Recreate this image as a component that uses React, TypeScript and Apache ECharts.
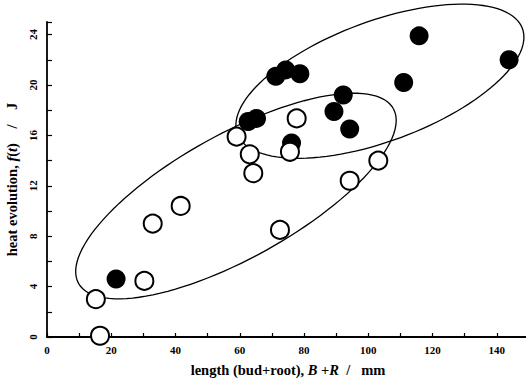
import React, { useEffect, useRef } from "react";
import * as echarts from "echarts";

// Filled circles: [length B+R (mm), heat evolution f(t) (J)]
const filledPoints: number[][] = [
  [21.5, 4.6],
  [62.6, 17.1],
  [65.2, 17.35],
  [71.2, 20.7],
  [74.3, 21.2],
  [78.7, 20.9],
  [76.1, 15.4],
  [89.3, 17.9],
  [92.2, 19.2],
  [94.2, 16.5],
  [111.0, 20.2],
  [115.8, 23.9],
  [143.8, 22.0],
];

// Open circles
const openPoints: number[][] = [
  [16.5, 0.1],
  [15.2, 3.0],
  [30.3, 4.45],
  [32.9, 9.0],
  [41.6, 10.4],
  [59.0, 15.9],
  [63.1, 14.5],
  [64.2, 13.0],
  [75.6, 14.7],
  [77.7, 17.35],
  [72.5, 8.5],
  [94.2, 12.4],
  [103.1, 14.0],
];

// Ellipses in data units: centre and two conjugate semi-axis vectors
const ellipseCentres: number[][] = [
  [103.6, 20.3],
  [58.8, 11.19],
];
const ellipseAxisA: number[][] = [
  [44.35, 4.18],
  [48.99, 6.93],
];
const ellipseAxisB: number[][] = [
  [6.47, -4.47],
  [9.36, -4.31],
];

const xName = "length (bud+root), {i|B} +{i|R}  /   mm";
const yName = "heat evolution, {i|f}({i|t})    /    J";

const FONT = '"Liberation Serif", "Times New Roman", serif';

export default function App() {
  const ref = useRef<HTMLDivElement>(null);

  useEffect(() => {
    if (!ref.current) return;
    document.body.style.margin = "0";
    const chart = echarts.init(ref.current, undefined, { renderer: "svg" });

    const renderEllipse = (params: any, api: any) => {
      const i = params.dataIndex;
      const c = ellipseCentres[i];
      const a = ellipseAxisA[i];
      const b = ellipseAxisB[i];
      const pts: number[][] = [];
      const N = 120;
      for (let k = 0; k <= N; k++) {
        const t = (2 * Math.PI * k) / N;
        pts.push(
          api.coord([
            c[0] + a[0] * Math.cos(t) + b[0] * Math.sin(t),
            c[1] + a[1] * Math.cos(t) + b[1] * Math.sin(t),
          ])
        );
      }
      return {
        type: "polyline",
        shape: { points: pts },
        style: { fill: "none", stroke: "#000", lineWidth: 1.3 },
      };
    };

    const nameStyle = {
      fontFamily: FONT,
      fontSize: 14.5,
      fontWeight: "bold",
      color: "#000",
      lineHeight: 15,
      rich: {
        i: {
          fontFamily: FONT,
          fontSize: 14.5,
          fontStyle: "italic",
          fontWeight: "bold",
          color: "#000",
          lineHeight: 15,
        },
      },
    };

    chart.setOption({
      animation: false,
      backgroundColor: "#fff",
      grid: {
        left: 47,
        top: 22,
        width: 482,
        height: 315,
        containLabel: false,
        outerBoundsMode: "none",
      },
      xAxis: {
        type: "value",
        min: 0,
        max: 150,
        interval: 10,
        name: xName,
        nameLocation: "middle",
        nameGap: 25,
        nameTextStyle: nameStyle,
        axisLine: { show: true, lineStyle: { color: "#000", width: 1.8 } },
        axisTick: { show: true, inside: true, length: 4, lineStyle: { color: "#000", width: 1.2 } },
        axisLabel: {
          margin: 7,
          fontFamily: FONT,
          fontSize: 11,
          fontWeight: "bold",
          color: "#000",
          formatter: (v: number) => (v % 20 === 0 ? String(v) : ""),
        },
        splitLine: { show: false },
      },
      yAxis: {
        type: "value",
        min: 0,
        max: 25,
        interval: 2,
        name: yName,
        nameLocation: "middle",
        nameGap: 27,
        nameRotate: 90,
        nameTextStyle: nameStyle,
        axisLine: { show: true, lineStyle: { color: "#000", width: 1.8 } },
        axisTick: { show: true, inside: true, length: 5, lineStyle: { color: "#000", width: 1.2 } },
        axisLabel: {
          rotate: 90,
          margin: 9,
          fontFamily: FONT,
          fontSize: 11,
          fontWeight: "bold",
          color: "#000",
          formatter: (v: number) => (v % 4 === 0 ? String(v) : ""),
        },
        splitLine: { show: false },
      },
      series: [
        {
          type: "custom",
          coordinateSystem: "cartesian2d",
          renderItem: renderEllipse,
          data: ellipseCentres,
          clip: false,
          silent: true,
          z: 1,
        },
        {
          type: "scatter",
          data: openPoints,
          symbol: "circle",
          symbolSize: 18,
          itemStyle: { color: "#fff", borderColor: "#000", borderWidth: 2, opacity: 1 },
          z: 3,
        },
        {
          type: "scatter",
          data: filledPoints,
          symbol: "circle",
          symbolSize: 19,
          itemStyle: { color: "#000", opacity: 1 },
          z: 2,
        },
      ],
    });

    return () => chart.dispose();
  }, []);

  return <div ref={ref} style={{ width: 526, height: 379 }} />;
}
